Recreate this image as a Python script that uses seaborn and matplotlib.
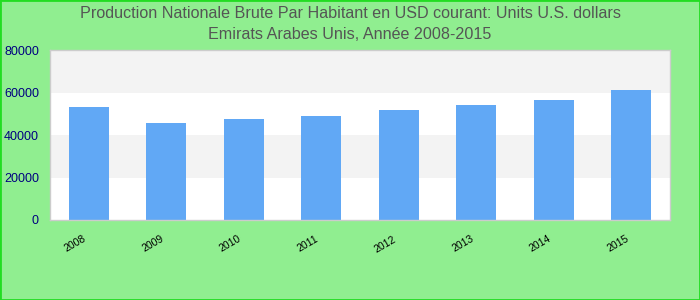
import matplotlib
matplotlib.use("Agg")
import matplotlib.pyplot as plt
import matplotlib.transforms as mtransforms
import seaborn as sns
import pandas as pd
from matplotlib.patches import Rectangle

years = ["2008", "2009", "2010", "2011", "2012", "2013", "2014", "2015"]
values = [53200, 45600, 47500, 48900, 51800, 54100, 56500, 61200]
yticks = [0, 20000, 40000, 60000, 80000]

sns.set_theme(style="white")
plt.rcParams['font.family'] = ['Liberation Sans', 'DejaVu Sans']

df = pd.DataFrame({"year": years, "value": values})

fig = plt.figure(figsize=(7, 3), dpi=100, facecolor="#90EE90")
ax = fig.add_axes([50/700, 80/300, 620/700, 170/300])
ax.set_facecolor("white")

# alternating bands
for i in range(len(yticks) - 1):
    if i % 2 == 1:
        ax.axhspan(yticks[i], yticks[i+1], color="#f3f3f3", zorder=0, lw=0)

sns.barplot(data=df, x="year", y="value", color="#61a8f5", width=0.52,
            saturation=1, linewidth=0, edgecolor="none", ax=ax, zorder=2)

ax.set_ylim(0, 80000)
ax.set_xlim(-0.5, len(years) - 0.5)
ax.set_yticks(yticks)
ax.set_yticklabels([str(v) for v in yticks], color="#000080", fontsize=9)
ax.set_xticks(range(len(years)))
ax.set_xticklabels(years, rotation=30, fontsize=7.5, color="black",
                   ha="right", va="top", rotation_mode="anchor")
ax.tick_params(axis="x", length=0, pad=10)
ax.tick_params(axis="y", length=0, pad=8)
shift = mtransforms.ScaledTranslation(-0.06, 0, fig.dpi_scale_trans)
for lbl in ax.get_xticklabels():
    lbl.set_transform(lbl.get_transform() + shift)
ax.set_xlabel("")
ax.set_ylabel("")
for s in ax.spines.values():
    s.set_color("#cccccc")
    s.set_linewidth(1)

fig.text(0.5, 0.955, "Production Nationale Brute Par Habitant en USD courant: Units U.S. dollars",
         ha="center", va="center", fontsize=11.6, color="#555555")
fig.text(0.5, 0.885, "Emirats Arabes Unis, Année 2008-2015",
         ha="center", va="center", fontsize=11.6, color="#555555")

fig.patches.append(Rectangle((0, 0), 1, 1, transform=fig.transFigure, fill=False,
                             edgecolor="#22dd22", linewidth=2, zorder=10))

fig.savefig("out.png", dpi=100, facecolor=fig.get_facecolor())
